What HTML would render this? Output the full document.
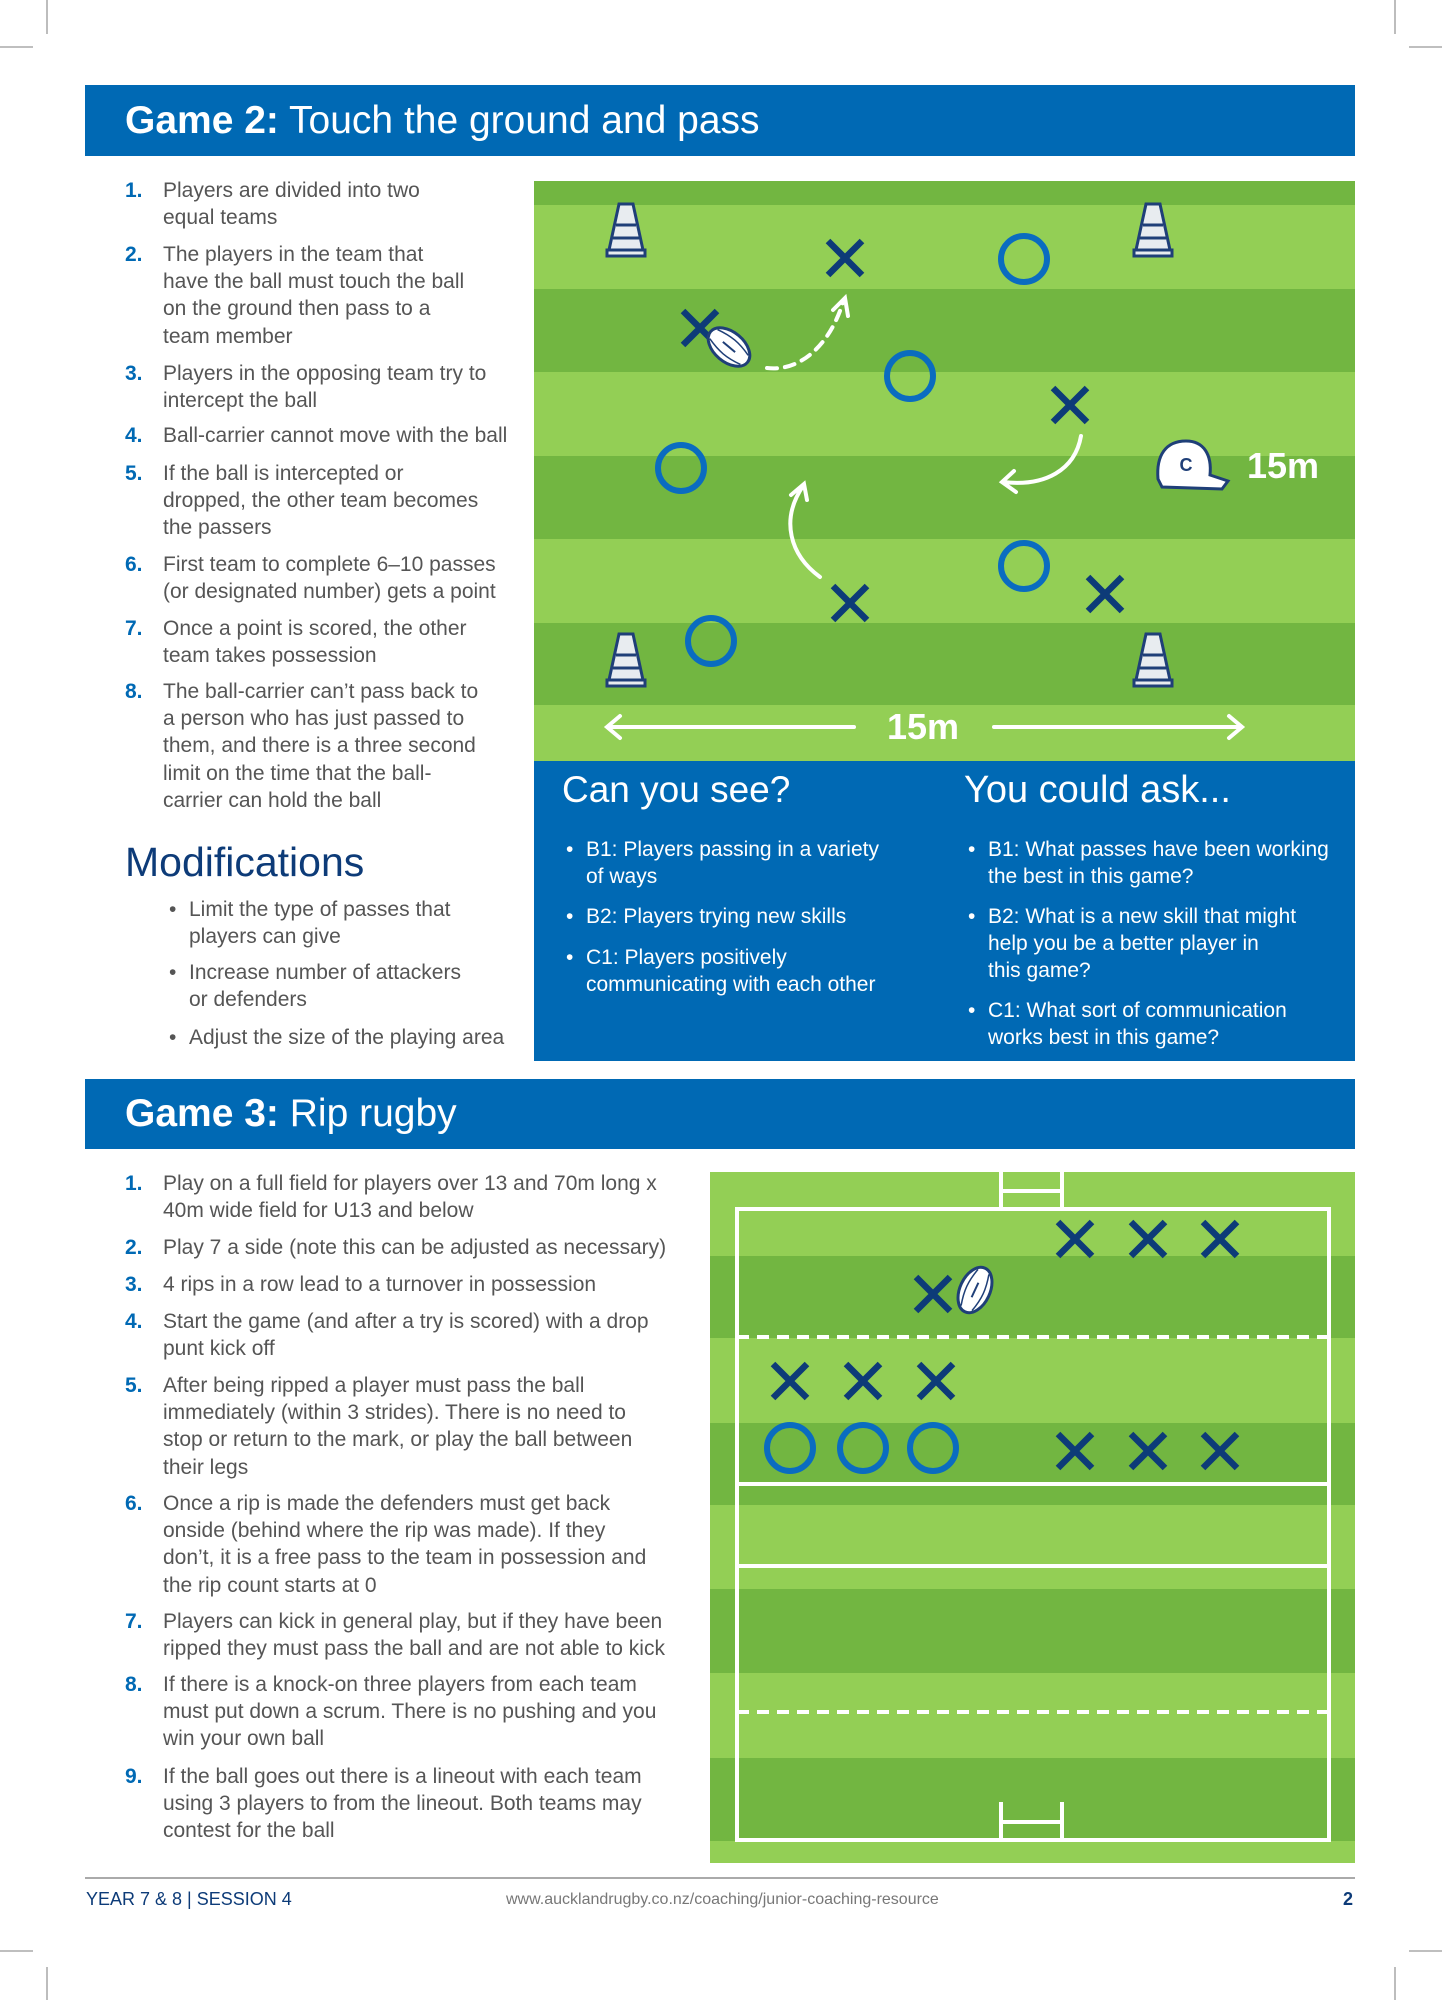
<!DOCTYPE html>
<html><head><meta charset="utf-8"><style>
body{margin:0;}
#p{position:relative;width:1442px;height:2000px;background:#fff;overflow:hidden;font-family:"Liberation Sans",sans-serif;}
.a{position:absolute;white-space:nowrap;}
.hd{position:absolute;left:85px;width:1270px;background:#0069b4;color:#fff;font-size:39px;}
.hd span{position:absolute;left:40px;top:50%;transform:translateY(-50%);}
.li{position:absolute;font-size:21px;color:#555;line-height:27.2px;white-space:nowrap;}
.li b{position:absolute;left:-38px;color:#0069b4;}
.bl{position:absolute;font-size:21px;line-height:27.2px;white-space:nowrap;}
.bl:before{content:"•";position:absolute;left:-20px;}
.w{color:#fff}.g{color:#555}
</style></head><body><div id="p">
<svg class="a" style="left:0;top:0" width="1442" height="2000">
<g stroke="#999" stroke-width="1.3">
<line x1="47" y1="0" x2="47" y2="34"/><line x1="0" y1="47" x2="33" y2="47"/>
<line x1="1395" y1="0" x2="1395" y2="34"/><line x1="1409" y1="47" x2="1442" y2="47"/>
<line x1="47" y1="1967" x2="47" y2="2000"/><line x1="0" y1="1951" x2="33" y2="1951"/>
<line x1="1395" y1="1967" x2="1395" y2="2000"/><line x1="1409" y1="1951" x2="1442" y2="1951"/>
</g>
<rect x="534" y="181" width="821" height="580" fill="#93cf55"/>
<g fill="#72b641"><rect x="534" y="181" width="821" height="24"/><rect x="534" y="289" width="821" height="83"/><rect x="534" y="456" width="821" height="83"/><rect x="534" y="623" width="821" height="82"/></g>
<rect x="534" y="761" width="821" height="300" fill="#0069b4"/>
<defs>
<g id="cone"><polygon points="-7,-26 7,-26 17,20 -17,20" fill="#e8ecf0" stroke="#1f3f78" stroke-width="3"/><rect x="-19" y="20" width="38" height="6" fill="#e8ecf0" stroke="#1f3f78" stroke-width="3"/><line x1="-10" y1="-5" x2="10" y2="-5" stroke="#1f3f78" stroke-width="3"/><line x1="-13" y1="8" x2="13" y2="8" stroke="#1f3f78" stroke-width="3"/></g>
<path id="x" d="M-17,-17L17,17M17,-17L-17,17" stroke="#0d3b78" stroke-width="6.5" fill="none"/>
<circle id="o" r="23" fill="none" stroke="#0a6cc0" stroke-width="6"/>
<g id="ball"><ellipse rx="15" ry="24" fill="#fff" stroke="#1f3f78" stroke-width="3"/><path d="M-6,-20C-10,-5 -10,5 -6,20M6,-20C10,-5 10,5 6,20" stroke="#1f3f78" stroke-width="1.5" fill="none"/><line x1="0" y1="-8" x2="0" y2="8" stroke="#1f3f78" stroke-width="2"/></g>
</defs>
<use href="#cone" x="626" y="230"/><use href="#cone" x="1153" y="230"/><use href="#cone" x="626" y="660"/><use href="#cone" x="1153" y="660"/>
<use href="#x" x="845" y="258"/><use href="#x" x="700" y="328"/><use href="#x" x="1070" y="405"/><use href="#x" x="850" y="603"/><use href="#x" x="1105" y="594"/>
<use href="#o" x="1024" y="259"/><use href="#o" x="910" y="376"/><use href="#o" x="681" y="468"/><use href="#o" x="1024" y="566"/><use href="#o" x="711" y="641"/>
<use href="#ball" transform="translate(729,347) rotate(-50)"/>
<g stroke="#fff" stroke-width="4" fill="none" stroke-linecap="round">
<path d="M767,368C800,372 830,345 843,302" stroke-dasharray="10,8"/>
<path d="M833,310L845,298L848,316"/>
<path d="M1081,436C1075,470 1045,487 1003,482"/><path d="M1014,471L1002,482L1016,492"/>
<path d="M820,577C790,555 780,520 803,486"/><path d="M791,495L804,484L807,500"/>
<line x1="608" y1="727" x2="854" y2="727"/><path d="M620,716L607,727L620,738"/>
<line x1="994" y1="727" x2="1241" y2="727"/><path d="M1229,716L1242,727L1229,738"/>
</g>
<g transform="translate(1186,465)"><path d="M-28,14C-30,-10 -20,-24 0,-24C18,-24 26,-10 24,10L42,16L36,24L-24,22Z" fill="#fff" stroke="#1f3f78" stroke-width="3"/><text x="0" y="6" font-family="Liberation Sans" font-weight="bold" font-size="18" fill="#1f3f78" text-anchor="middle">C</text></g>
<text x="1247" y="478" font-family="Liberation Sans" font-weight="bold" font-size="36" fill="#fff">15m</text>
<text x="923" y="739" font-family="Liberation Sans" font-weight="bold" font-size="36" fill="#fff" text-anchor="middle">15m</text>
<rect x="710" y="1172" width="645" height="691" fill="#93cf55"/>
<g fill="#72b641"><rect x="710" y="1256" width="645" height="82"/><rect x="710" y="1423" width="645" height="82"/><rect x="710" y="1589" width="645" height="84"/><rect x="710" y="1758" width="645" height="83"/></g>
<g stroke="#fff" stroke-width="4" fill="none">
<rect x="737" y="1209" width="592" height="631"/>
<line x1="1001" y1="1172" x2="1001" y2="1209"/><line x1="1062" y1="1172" x2="1062" y2="1209"/><line x1="1001" y1="1191" x2="1062" y2="1191"/>
<line x1="1001" y1="1802" x2="1001" y2="1840"/><line x1="1062" y1="1802" x2="1062" y2="1840"/><line x1="1001" y1="1822" x2="1062" y2="1822"/>
<line x1="737" y1="1484" x2="1329" y2="1484"/><line x1="737" y1="1566" x2="1329" y2="1566"/>
<line x1="737" y1="1337" x2="1329" y2="1337" stroke-dasharray="12,8"/><line x1="737" y1="1712" x2="1329" y2="1712" stroke-dasharray="12,8"/>
</g>
<use href="#x" x="1075" y="1239"/><use href="#x" x="1148" y="1239"/><use href="#x" x="1220" y="1239"/>
<use href="#x" x="933" y="1294"/><use href="#ball" transform="translate(975,1290) rotate(25)"/>
<use href="#x" x="790" y="1381"/><use href="#x" x="863" y="1381"/><use href="#x" x="936" y="1381"/>
<use href="#o" x="790" y="1448"/><use href="#o" x="863" y="1448"/><use href="#o" x="933" y="1448"/>
<use href="#x" x="1075" y="1451"/><use href="#x" x="1148" y="1451"/><use href="#x" x="1220" y="1451"/>
<line x1="85" y1="1878" x2="1355" y2="1878" stroke="#aaa" stroke-width="2"/>
</svg>

<div class="hd" style="top:85px;height:71px"><span><b>Game 2:</b> Touch the ground and pass</span></div>
<div class="hd" style="top:1079px;height:70px"><span><b>Game 3:</b> Rip rugby</span></div>

<div class="li" style="left:163px;top:177px"><b>1.</b>Players are divided into two<br>equal teams</div>
<div class="li" style="left:163px;top:241px"><b>2.</b>The players in the team that<br>have the ball must touch the ball<br>on the ground then pass to a<br>team member</div>
<div class="li" style="left:163px;top:360px"><b>3.</b>Players in the opposing team try to<br>intercept the ball</div>
<div class="li" style="left:163px;top:422px"><b>4.</b>Ball-carrier cannot move with the ball</div>
<div class="li" style="left:163px;top:460px"><b>5.</b>If the ball is intercepted or<br>dropped, the other team becomes<br>the passers</div>
<div class="li" style="left:163px;top:551px"><b>6.</b>First team to complete 6–10 passes<br>(or designated number) gets a point</div>
<div class="li" style="left:163px;top:615px"><b>7.</b>Once a point is scored, the other<br>team takes possession</div>
<div class="li" style="left:163px;top:678px"><b>8.</b>The ball-carrier can’t pass back to<br>a person who has just passed to<br>them, and there is a three second<br>limit on the time that the ball-<br>carrier can hold the ball</div>

<div class="a" style="left:125px;top:839px;font-size:41px;color:#0d3b78">Modifications</div>
<div class="bl g" style="left:189px;top:896px">Limit the type of passes that<br>players can give</div>
<div class="bl g" style="left:189px;top:959px">Increase number of attackers<br>or defenders</div>
<div class="bl g" style="left:189px;top:1024px">Adjust the size of the playing area</div>

<div class="a w" style="left:562px;top:769px;font-size:37px">Can you see?</div>
<div class="a w" style="left:964px;top:769px;font-size:38px">You could ask...</div>
<div class="bl w" style="left:586px;top:836px">B1: Players passing in a variety<br>of ways</div>
<div class="bl w" style="left:586px;top:903px">B2: Players trying new skills</div>
<div class="bl w" style="left:586px;top:944px">C1: Players positively<br>communicating with each other</div>
<div class="bl w" style="left:988px;top:836px">B1: What passes have been working<br>the best in this game?</div>
<div class="bl w" style="left:988px;top:903px">B2: What is a new skill that might<br>help you be a better player in<br>this game?</div>
<div class="bl w" style="left:988px;top:997px">C1: What sort of communication<br>works best in this game?</div>

<div class="li" style="left:163px;top:1170px"><b>1.</b>Play on a full field for players over 13 and 70m long x<br>40m wide field for U13 and below</div>
<div class="li" style="left:163px;top:1234px"><b>2.</b>Play 7 a side (note this can be adjusted as necessary)</div>
<div class="li" style="left:163px;top:1271px"><b>3.</b>4 rips in a row lead to a turnover in possession</div>
<div class="li" style="left:163px;top:1308px"><b>4.</b>Start the game (and after a try is scored) with a drop<br>punt kick off</div>
<div class="li" style="left:163px;top:1372px"><b>5.</b>After being ripped a player must pass the ball<br>immediately (within 3 strides). There is no need to<br>stop or return to the mark, or play the ball between<br>their legs</div>
<div class="li" style="left:163px;top:1490px"><b>6.</b>Once a rip is made the defenders must get back<br>onside (behind where the rip was made). If they<br>don’t, it is a free pass to the team in possession and<br>the rip count starts at 0</div>
<div class="li" style="left:163px;top:1608px"><b>7.</b>Players can kick in general play, but if they have been<br>ripped they must pass the ball and are not able to kick</div>
<div class="li" style="left:163px;top:1671px"><b>8.</b>If there is a knock-on three players from each team<br>must put down a scrum. There is no pushing and you<br>win your own ball</div>
<div class="li" style="left:163px;top:1763px"><b>9.</b>If the ball goes out there is a lineout with each team<br>using 3 players to from the lineout. Both teams may<br>contest for the ball</div>

<div class="a" style="left:86px;top:1889px;font-size:18px;color:#0d3b78">YEAR 7 &amp; 8 | SESSION 4</div>
<div class="a" style="left:506px;top:1891px;font-size:16px;color:#777">www.aucklandrugby.co.nz/coaching/junior-coaching-resource</div>
<div class="a" style="left:1343px;top:1889px;font-size:18px;color:#0d3b78;font-weight:bold">2</div>
</div></body></html>
